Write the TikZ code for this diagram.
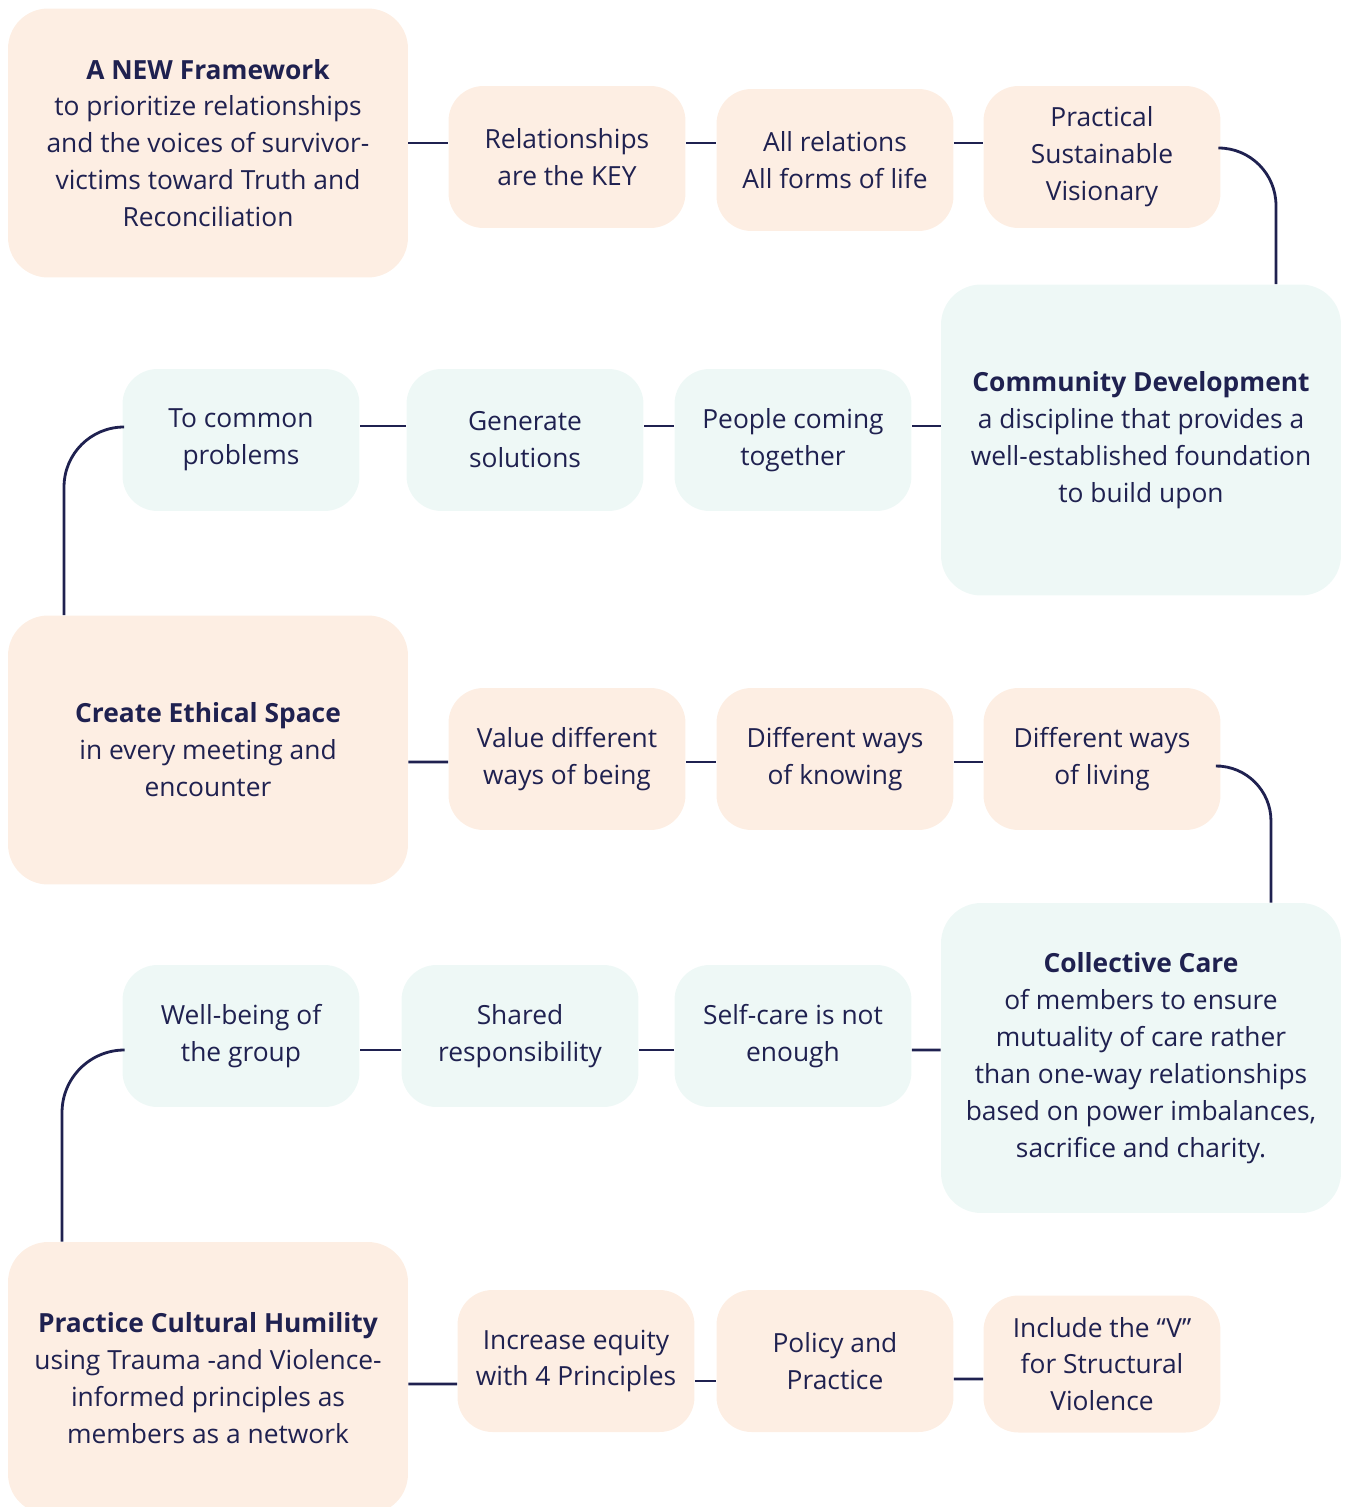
\documentclass[tikz,border=0pt]{standalone}
\usepackage{fontspec}
\setmainfont{Open Sans}
\usetikzlibrary{positioning,calc}
\definecolor{peach}{HTML}{FDEEE3}
\definecolor{mint}{HTML}{EEF8F6}
\definecolor{ink}{HTML}{1F2150}

\begin{document}
\begin{tikzpicture}[x=0.02cm,y=-0.02cm,font=\fontsize{15}{21}\selectfont,text=ink]
  \tikzset{
    card/.style={rounded corners=0.7cm,align=center,inner sep=0pt,minimum width=4.74cm,minimum height=2.84cm},
    hub/.style={card,rounded corners=0.8cm,minimum width=8cm},
    warm/.style={fill=peach},
    cool/.style={fill=mint},
    link/.style={draw=ink,line width=1.6pt},
  }
  \clip (0,0) rectangle (1346,1507);

  % first row: the framework and its three ideas
  \node[hub,warm,minimum height=5.38cm] (frame) at (208,143) {\textbf{A NEW Framework}\\to prioritize relationships\\and the voices of survivor-\\victims toward Truth and\\Reconciliation};
  \node[card,warm] (rel) at (567,157) {Relationships\\are the KEY};
  \node[card,warm] (allrel) at (835,160) {All relations\\All forms of life};
  \node[card,warm] (pract) at (1102,157) {Practical\\Sustainable\\Visionary};

  % second row runs right to left
  \node[hub,cool,minimum height=6.22cm] (comm) at (1141,440) {\textbf{Community Development}\\a discipline that provides a\\well-established foundation\\to build upon};
  \node[card,cool] (people) at (793,440) {People coming\\together};
  \node[card,cool] (gen) at (525,440) {Generate\\solutions};
  \node[card,cool] (common) at (241,440) {To common\\problems};

  % third row
  \node[hub,warm,minimum height=5.38cm] (ethic) at (208,750) {\textbf{Create Ethical Space}\\in every meeting and\\encounter};
  \node[card,warm] (being) at (567,759) {Value different\\ways of being};
  \node[card,warm] (knowing) at (835,759) {Different ways\\of knowing};
  \node[card,warm] (living) at (1102,759) {Different ways\\of living};

  % fourth row runs right to left
  \node[hub,cool,minimum height=6.2cm] (care) at (1141,1058) {\textbf{Collective Care}\\of members to ensure\\mutuality of care rather\\than one-way relationships\\based on power imbalances,\\sacrifice and charity.};
  \node[card,cool] (self) at (793,1036) {Self-care is not\\enough};
  \node[card,cool] (shared) at (520,1036) {Shared\\responsibility};
  \node[card,cool] (group) at (241,1036) {Well-being of\\the group};

  % last row
  \node[hub,warm,minimum height=5.44cm] (humil) at (208,1378) {\textbf{Practice Cultural Humility}\\using Trauma -and Violence-\\informed principles as\\members as a network};
  \node[card,warm] (equity) at (576,1361) {Increase equity\\with 4 Principles};
  \node[card,warm] (policy) at (835,1361) {Policy and\\Practice};
  \node[card,warm,minimum height=2.74cm] (incl) at (1102,1364) {Include the “V”\\for Structural\\Violence};

  % connectors
  \draw[link] (frame.east) -- (rel.west |- frame.east);
  \draw[link] (rel.east |- frame.east) -- (allrel.west |- frame.east);
  \draw[link] (allrel.east |- frame.east) -- (pract.west |- frame.east);
  \draw[link,rounded corners=1.15cm] ([yshift=0.18cm]pract.east) -| ([xshift=2.7cm]comm.north);

  \draw[link] ([yshift=0.28cm]comm.west) -- ([yshift=0.28cm]people.east);
  \draw[link] ([yshift=0.28cm]people.west) -- ([yshift=0.28cm]gen.east);
  \draw[link] ([yshift=0.28cm]gen.west) -- ([yshift=0.28cm]common.east);
  \draw[link,rounded corners=1.2cm] ([yshift=0.26cm]common.west) -| ([xshift=-2.88cm]ethic.north);

  \draw[link] ([yshift=-0.24cm]ethic.east) -- ([yshift=-0.06cm]being.west);
  \draw[link] ([yshift=-0.06cm]being.east) -- ([yshift=-0.06cm]knowing.west);
  \draw[link] ([yshift=-0.06cm]knowing.east) -- ([yshift=-0.06cm]living.west);
  \draw[link,rounded corners=1.1cm] ([yshift=-0.14cm]living.east) -| ([xshift=2.6cm]care.north);

  \draw[link] ([yshift=0.16cm]care.west) -- ([yshift=-0.28cm]self.east);
  \draw[link] ([yshift=-0.28cm]self.west) -- ([yshift=-0.28cm]shared.east);
  \draw[link] ([yshift=-0.28cm]shared.west) -- ([yshift=-0.28cm]group.east);
  \draw[link,rounded corners=1.25cm] ([yshift=-0.28cm]group.west) -| ([xshift=-2.92cm]humil.north);

  \draw[link] ([yshift=-0.12cm]humil.east) -- ([yshift=-0.46cm]equity.west);
  \draw[link] ([yshift=-0.4cm]equity.east) -- ([yshift=-0.4cm]policy.west);
  \draw[link] ([yshift=-0.36cm]policy.east) -- ([yshift=-0.3cm]incl.west);
\end{tikzpicture}
\end{document}
